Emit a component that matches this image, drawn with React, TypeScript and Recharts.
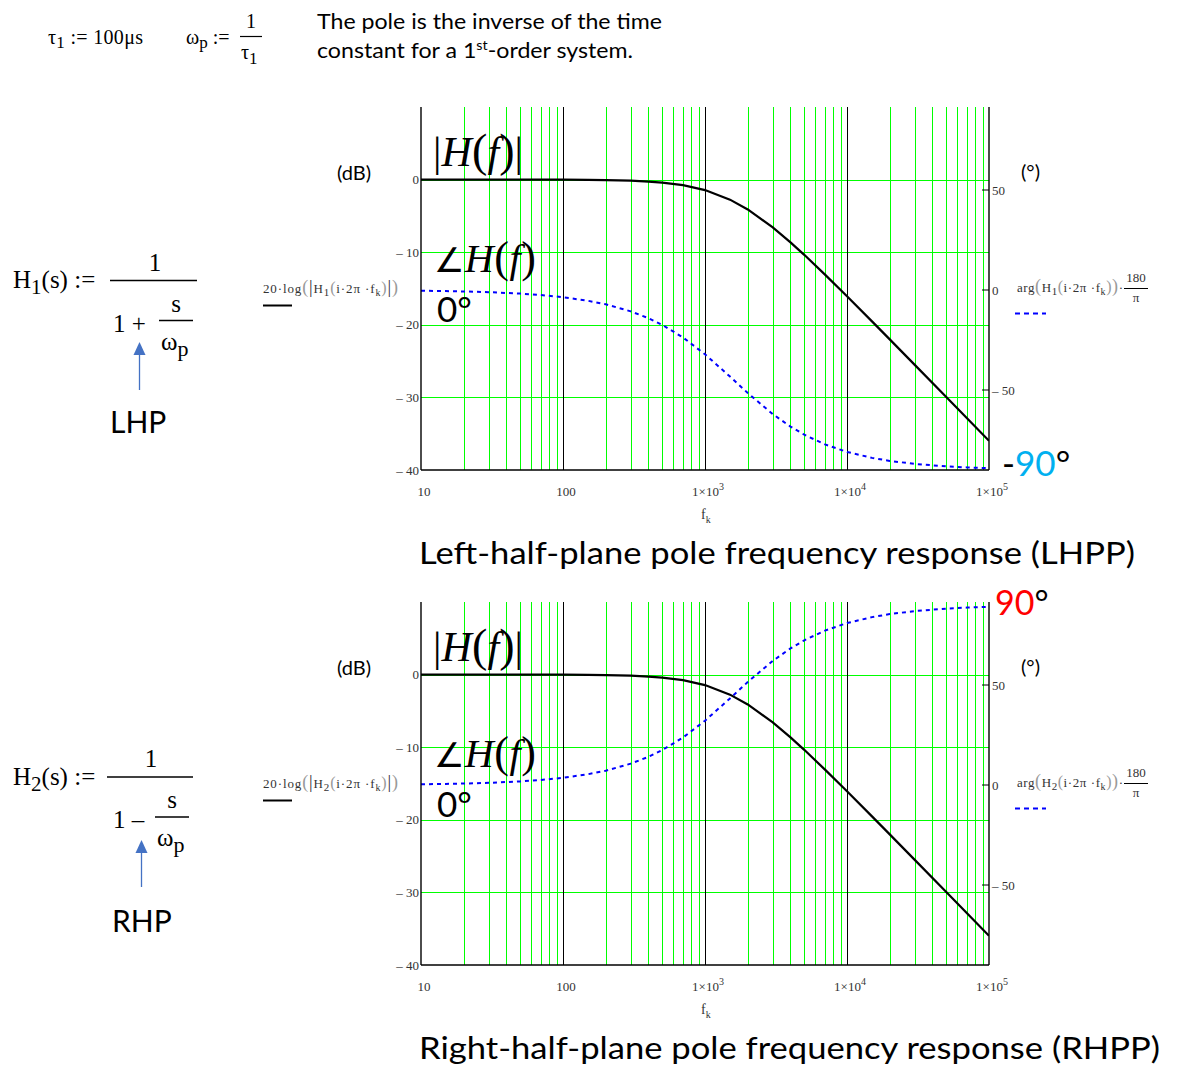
import React from 'react';
import { ComposedChart, Line, XAxis, YAxis, ReferenceLine } from 'recharts';

// ---- data ----
const frequencyHz = [10, 15, 20, 30, 50, 70, 100, 150, 200, 300, 400, 500, 700, 1000, 1500, 2000, 3000, 4000, 5000, 7000, 10000, 15000, 20000, 30000, 50000, 70000, 100000];
const magnitudeDb = [0, 0, 0, -0.002, -0.004, -0.008, -0.017, -0.038, -0.068, -0.152, -0.266, -0.409, -0.769, -1.445, -2.76, -4.115, -6.58, -8.64, -10.36, -13.09, -16.07, -19.53, -22.01, -25.52, -29.95, -32.87, -35.97];
const phaseLhpDeg = [-0.36, -0.54, -0.72, -1.08, -1.8, -2.52, -3.6, -5.38, -7.16, -10.67, -14.11, -17.44, -23.74, -32.14, -43.3, -51.49, -62.05, -68.3, -72.34, -77.19, -80.96, -83.94, -85.45, -86.96, -88.18, -88.7, -89.09];
const phaseRhpDeg = [0.36, 0.54, 0.72, 1.08, 1.8, 2.52, 3.6, 5.38, 7.16, 10.67, 14.11, 17.44, 23.74, 32.14, 43.3, 51.49, 62.05, 68.3, 72.34, 77.19, 80.96, 83.94, 85.45, 86.96, 88.18, 88.7, 89.09];
const freqTicks = [10, 100, 1000, 10000, 100000];
const decadeGridHz = [100, 1000, 10000];
const minorGridHz = [20, 30, 40, 50, 60, 70, 80, 90, 200, 300, 400, 500, 600, 700, 800, 900, 2000, 3000, 4000, 5000, 6000, 7000, 8000, 9000, 20000, 30000, 40000, 50000, 60000, 70000, 80000, 90000];
const dbTicks = [-40, -30, -20, -10, 0];
const dbGridLines = [-30, -20, -10, 0];
const degTicks = [-50, 0, 50];

const SERIF = "'Liberation Serif', 'Times New Roman', serif";
const SANS = "Lato, 'Open Sans', sans-serif";
const GREEN = '#00ff00';
const BLUE = '#0000ff';
const LABEL = '#333';

// snaps the scale-computed grid line onto the pixel grid so it renders crisp
const CrispLine = (p: any) => {
  const vertical = Math.abs(p.x1 - p.x2) < 0.01;
  const x1 = vertical ? Math.round(p.x1) + 0.5 : p.x1;
  const x2 = vertical ? Math.round(p.x2) + 0.5 : p.x2;
  const y1 = vertical ? p.y1 : Math.round(p.y1) + 0.5;
  const y2 = vertical ? p.y2 : Math.round(p.y2) + 0.5;
  return <line x1={x1} x2={x2} y1={y1} y2={y2} stroke={p.stroke} strokeWidth={1} />;
};

const XTick = (props: any) => {
  const { x, y, payload } = props;
  const v = payload.value as number;
  const e = Math.round(Math.log10(v));
  return (
    <text x={x + 3} y={y + 26} textAnchor="middle" fontFamily={SERIF} fontSize={13} fill={LABEL}>
      {v < 1000 ? String(v) : (<>1×10<tspan dy={-6} fontSize={10}>{e}</tspan></>)}
    </text>
  );
};

const LeftTick = (props: any) => {
  const { x, y, payload } = props;
  const v = payload.value as number;
  return (
    <text x={x} y={y} dy="0.35em" textAnchor="end" fontFamily={SERIF} fontSize={13} fill={LABEL}>
      {v < 0 ? `– ${-v}` : String(v)}
    </text>
  );
};

const RightTick = (props: any) => {
  const { x, y, payload } = props;
  const v = payload.value as number;
  return (
    <g>
      <line x1={x - 10} x2={x - 3} y1={y} y2={y} stroke="#000" strokeWidth={1} />
      <text x={x} y={y} dy="0.35em" textAnchor="start" fontFamily={SERIF} fontSize={13} fill={LABEL}>
        {v < 0 ? `– ${-v}` : String(v)}
      </text>
    </g>
  );
};

function Bode({ top, phase }: { top: number; phase: number[] }) {
  const data = frequencyHz.map((f, i) => ({ f, mag: magnitudeDb[i], phase: phase[i] }));
  const frame = { stroke: '#000', strokeWidth: 1.4 };
  return (
    <div style={{ position: 'absolute', left: 0, top, width: 1184, height: 540 }}>
      <ComposedChart width={1184} height={540} data={data} margin={{ top: 107, left: 361, right: 135, bottom: 40 }}>
        <XAxis dataKey="f" type="number" scale="log" domain={[10, 100000]} allowDataOverflow ticks={freqTicks} interval={0}
          tick={<XTick />} tickLine={false} tickSize={0} tickMargin={0} height={30} stroke="#000" axisLine={frame} />
        <XAxis xAxisId="top" orientation="top" dataKey="f" type="number" scale="log" domain={[10, 100000]} allowDataOverflow
          tick={false} tickLine={false} height={0} stroke="#000" axisLine={frame} />
        <YAxis yAxisId="db" type="number" domain={[-40, 10]} allowDataOverflow ticks={dbTicks} interval={0}
          tick={<LeftTick />} tickLine={false} tickSize={0} tickMargin={2} width={60} stroke="#000" axisLine={frame} />
        <YAxis yAxisId="deg" orientation="right" type="number" domain={[-90, 91.5]} allowDataOverflow ticks={degTicks} interval={0}
          tick={<RightTick />} tickLine={false} tickSize={0} tickMargin={3} width={60} stroke="#000" axisLine={frame} />
        {minorGridHz.map((f) => (
          <ReferenceLine key={`m${f}`} x={f} yAxisId="db" stroke={GREEN} strokeWidth={1} shape={CrispLine} />
        ))}
        {dbGridLines.map((d) => (
          <ReferenceLine key={`h${d}`} y={d} yAxisId="db" stroke={GREEN} strokeWidth={1} shape={CrispLine} />
        ))}
        {decadeGridHz.map((f) => (
          <ReferenceLine key={`d${f}`} x={f} yAxisId="db" stroke="#000" strokeWidth={1} shape={CrispLine} />
        ))}
        <Line yAxisId="deg" dataKey="phase" type="linear" stroke={BLUE} strokeWidth={2} strokeDasharray="4 4" dot={false} activeDot={false} isAnimationActive={false} />
        <Line yAxisId="db" dataKey="mag" type="linear" stroke="#000" strokeWidth={2.2} dot={false} activeDot={false} isAnimationActive={false} />
      </ComposedChart>
    </div>
  );
}

function ChartTexts({ dy, idx, title, titleLen }: { dy: number; idx: string; title: string; titleLen: number }) {
  return (
    <g>
      <text x={337} y={180 + dy} fontFamily={SANS} fontSize={20} fill="#000">(dB)</text>
      <text x={1021} y={179 + dy} fontFamily={SANS} fontSize={20} fill="#000">(°)</text>
      <text x={433} y={166 + dy} fontFamily={SERIF} fontSize={42} fill="#000" textLength={90} lengthAdjust="spacing">
        |<tspan fontStyle="italic">H</tspan><tspan fontSize={46}>(</tspan><tspan fontStyle="italic">f</tspan><tspan fontSize={46}>)</tspan>|
      </text>
      <text x={434} y={272 + dy} fontFamily={SERIF} fontSize={40} fill="#000" textLength={102} lengthAdjust="spacing">
        <tspan fontSize={34}>∠</tspan><tspan fontStyle="italic">H</tspan><tspan fontSize={44}>(</tspan><tspan fontStyle="italic">f</tspan><tspan fontSize={44}>)</tspan>
      </text>
      <text x={437} y={322 + dy} fontFamily={SANS} fontSize={35} fill="#000">0°</text>
      <text x={263} y={293 + dy} fontFamily={SERIF} fontSize={13} fill={LABEL} textLength={135} lengthAdjust="spacing">
        20·log<tspan fill="#999" fontSize={18}>(</tspan><tspan fontSize={18}>|</tspan>H<tspan dy={3} fontSize={11}>{idx}</tspan><tspan dy={-3} fill="#999" fontSize={16}>(</tspan>i·2π ·f<tspan dy={3} fontSize={10}>k</tspan><tspan dy={-3} fill="#999" fontSize={16}>)</tspan><tspan fontSize={18}>|</tspan><tspan fill="#999" fontSize={18}>)</tspan>
      </text>
      <line x1={263} x2={292} y1={305.5 + dy} y2={305.5 + dy} stroke="#000" strokeWidth={2} />
      <text x={1017} y={292 + dy} fontFamily={SERIF} fontSize={13} fill={LABEL} textLength={106} lengthAdjust="spacing">
        arg<tspan fill="#999" fontSize={18}>(</tspan>H<tspan dy={3} fontSize={11}>{idx}</tspan><tspan dy={-3} fill="#999" fontSize={16}>(</tspan>i·2π ·f<tspan dy={3} fontSize={10}>k</tspan><tspan dy={-3} fill="#999" fontSize={16}>)</tspan><tspan fill="#999" fontSize={18}>)</tspan>·
      </text>
      <text x={1136} y={282 + dy} textAnchor="middle" fontFamily={SERIF} fontSize={13} fill={LABEL}>180</text>
      <line x1={1124} x2={1148} y1={288.5 + dy} y2={288.5 + dy} stroke="#000" strokeWidth={1} />
      <text x={1136} y={302 + dy} textAnchor="middle" fontFamily={SERIF} fontSize={13} fill={LABEL}>π</text>
      <line x1={1015} x2={1046} y1={313.5 + dy} y2={313.5 + dy} stroke={BLUE} strokeWidth={2} strokeDasharray="5 4" />
      <text x={701} y={519 + dy} fontFamily={SERIF} fontSize={14} fill={LABEL}>f<tspan dy={4} fontSize={10}>k</tspan></text>
      <text x={419} y={564 + dy} fontFamily={SANS} fontSize={30} fill="#000" textLength={titleLen} lengthAdjust="spacingAndGlyphs">{title}</text>
    </g>
  );
}

function Overlay() {
  return (
    <svg width={1184} height={1090} style={{ position: 'absolute', left: 0, top: 0, pointerEvents: 'none' }}>
      <text x={48} y={44} fontFamily={SERIF} fontSize={20} fill="#000" textLength={95} lengthAdjust="spacing">τ<tspan dy={4} fontSize={17}>1</tspan><tspan dy={-4}> := 100μs</tspan></text>
      <text x={186} y={44} fontFamily={SERIF} fontSize={20} fill="#000">ω<tspan dy={4} fontSize={17}>p</tspan><tspan dy={-4}> :=</tspan></text>
      <text x={251} y={28} textAnchor="middle" fontFamily={SERIF} fontSize={20} fill="#000">1</text>
      <line x1={240} x2={262} y1={36.5} y2={36.5} stroke="#000" strokeWidth={1.2} />
      <text x={241} y={59} fontFamily={SERIF} fontSize={20} fill="#000">τ<tspan dy={5} fontSize={17}>1</tspan></text>
      <text x={317} y={29} fontFamily={SANS} fontSize={21} fill="#000" textLength={345} lengthAdjust="spacingAndGlyphs">The pole is the inverse of the time</text>
      <text x={317} y={58} fontFamily={SANS} fontSize={21} fill="#000" textLength={316} lengthAdjust="spacingAndGlyphs">constant for a 1<tspan dy={-8} fontSize={13}>st</tspan><tspan dy={8}>-order system.</tspan></text>

      <text x={13} y={288} fontFamily={SERIF} fontSize={25} fill="#000">H<tspan dy={6} fontSize={21}>1</tspan><tspan dy={-6}>(s) :=</tspan></text>
      <text x={155} y={271} textAnchor="middle" fontFamily={SERIF} fontSize={25} fill="#000">1</text>
      <line x1={110} x2={197} y1={280.5} y2={280.5} stroke="#000" strokeWidth={1.5} />
      <text x={113} y={332} fontFamily={SERIF} fontSize={25} fill="#000">1 +</text>
      <text x={176} y={312} textAnchor="middle" fontFamily={SERIF} fontSize={25} fill="#000">s</text>
      <line x1={159} x2={193} y1={320.5} y2={320.5} stroke="#000" strokeWidth={1.5} />
      <text x={161} y={350} fontFamily={SERIF} fontSize={25} fill="#000">ω<tspan dy={6} fontSize={22}>p</tspan></text>
      <line x1={139.5} x2={139.5} y1={390} y2={352} stroke="#4472c4" strokeWidth={1.3} />
      <polygon points="133.5,355 145.5,355 139.5,342" fill="#4472c4" />
      <text x={110} y={433} fontFamily={SANS} fontSize={30} fill="#000">LHP</text>

      <text x={13} y={785} fontFamily={SERIF} fontSize={25} fill="#000">H<tspan dy={6} fontSize={21}>2</tspan><tspan dy={-6}>(s) :=</tspan></text>
      <text x={151} y={767} textAnchor="middle" fontFamily={SERIF} fontSize={25} fill="#000">1</text>
      <line x1={107} x2={193} y1={777} y2={777} stroke="#000" strokeWidth={1.5} />
      <text x={113} y={828} fontFamily={SERIF} fontSize={25} fill="#000">1 –</text>
      <text x={172} y={808} textAnchor="middle" fontFamily={SERIF} fontSize={25} fill="#000">s</text>
      <line x1={155} x2={189} y1={817} y2={817} stroke="#000" strokeWidth={1.5} />
      <text x={157} y={846} fontFamily={SERIF} fontSize={25} fill="#000">ω<tspan dy={6} fontSize={22}>p</tspan></text>
      <line x1={141.5} x2={141.5} y1={887} y2={850} stroke="#4472c4" strokeWidth={1.3} />
      <polygon points="135.5,853 147.5,853 141.5,840" fill="#4472c4" />
      <text x={112} y={932} fontFamily={SANS} fontSize={30} fill="#000">RHP</text>

      <ChartTexts dy={0} idx="1" title="Left-half-plane pole frequency response (LHPP)" titleLen={716} />
      <ChartTexts dy={495} idx="2" title="Right-half-plane pole frequency response (RHPP)" titleLen={741} />

      <text x={1002} y={476} fontFamily={SANS} fontSize={35} fill="#000">-<tspan fill="#00b0f0">90</tspan>°</text>
      <text x={995} y={615} fontFamily={SANS} fontSize={34} fill="#ff0000">90<tspan fill="#000">°</tspan></text>
    </svg>
  );
}

export default function App() {
  return (
    <div style={{ position: 'absolute', left: 0, top: 0, width: 1184, height: 1090, background: '#fff', overflow: 'hidden' }}>
      <Bode top={0} phase={phaseLhpDeg} />
      <Bode top={495} phase={phaseRhpDeg} />
      <Overlay />
    </div>
  );
}
